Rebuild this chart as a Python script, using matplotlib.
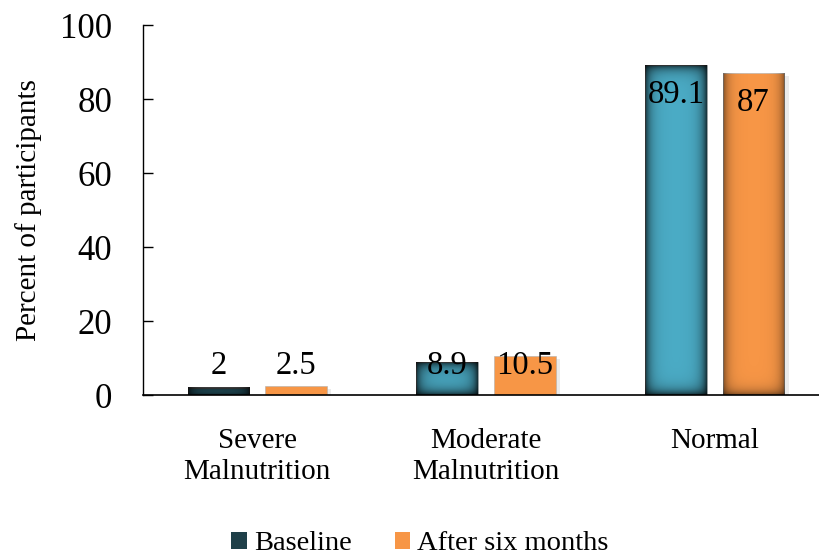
import numpy as np
import matplotlib
matplotlib.use("Agg")
import matplotlib.pyplot as plt
from matplotlib.patches import Patch
import matplotlib.patheffects as pe

plt.rcParams["font.family"] = ["Liberation Serif", "DejaVu Serif"]

categories = ["Severe\nMalnutrition", "Moderate\nMalnutrition", "Normal"]
baseline = [2, 8.9, 89.1]
after_six = [2.5, 10.5, 87]
series_names = ["Baseline", "After six months"]

BLUE = "#4bacc6"
ORANGE = "#f79646"
BAR_W = 0.27
OFFSET = 0.17


def inner_shadow(ax, rect, strength, sigma, sides="lrtb"):
    # darken a bar towards its edges, like an office-style inner shadow
    x0, y0 = rect.get_x(), rect.get_y()
    x1, y1 = x0 + rect.get_width(), y0 + rect.get_height()
    (px0, py0), (px1, py1) = ax.transData.transform([[x0, y0], [x1, y1]])
    nx = max(int(abs(px1 - px0)) * 2, 2)
    ny = max(int(abs(py1 - py0)) * 2, 2)
    xs = (np.arange(nx) + 0.5) / 2.0
    ys = (np.arange(ny) + 0.5) / 2.0
    X, Y = np.meshgrid(xs, ys)
    W, H = nx / 2.0, ny / 2.0
    keep = np.ones_like(X)
    dists = {"l": X, "r": W - X, "t": Y, "b": H - Y}
    for s in sides:
        keep *= 1 - strength * np.exp(-dists[s] / sigma)
    rgba = np.zeros((ny, nx, 4))
    rgba[..., 3] = 1 - keep
    ax.imshow(rgba, extent=[x0, x1, y0, y1], origin="upper", aspect="auto",
              interpolation="bilinear", zorder=rect.get_zorder() + 0.1)


fig = plt.figure(figsize=(8.19, 5.57), dpi=100)
ax = fig.add_axes([143 / 819, 162 / 557, 676 / 819, 370 / 557])

x = np.arange(len(categories))
bars_b = ax.bar(x - OFFSET, baseline, BAR_W, color=BLUE, edgecolor="#9a9a9a",
                linewidth=0.6, zorder=2)
bars_a = ax.bar(x + OFFSET, after_six, BAR_W, color=ORANGE, edgecolor="#b0b0b0",
                linewidth=0.4, zorder=2)
for b in bars_a:
    b.set_path_effects([pe.SimplePatchShadow(offset=(3, -2), shadow_rgbFace="#000000",
                                             alpha=0.08), pe.Normal()])

ax.set_xlim(-0.5, 2.456)
ax.set_ylim(0, 100)

for b in bars_b:
    inner_shadow(ax, b, 0.75, 5.5)
for b in bars_a:
    if b.get_height() > 50:
        inner_shadow(ax, b, 0.5, 5.0, sides="lrb")
ax.set_xlim(-0.5, 2.456)
ax.set_ylim(0, 100)

# value labels sit inside the top of tall bars, above short ones
for xs, vals in ((x - OFFSET, baseline), (x + OFFSET, after_six)):
    for xi, v in zip(xs, vals):
        ax.text(xi, max(v - 8, 8), f"{v:g}", ha="center", va="center",
                fontsize=23.5, zorder=5)

ax.set_xticks(x)
ax.set_xticklabels(categories, fontsize=21, linespacing=1.25)
ax.tick_params(axis="x", length=0, pad=24)
ax.set_yticks(range(0, 101, 20))
ax.tick_params(axis="y", direction="in", length=7, width=1, labelsize=25, pad=22)
ax.set_ylabel("Percent of participants", fontsize=21)
ax.yaxis.set_label_coords(-0.15, 0.5)

for s in ("top", "right"):
    ax.spines[s].set_visible(False)
ax.spines["left"].set_linewidth(1)
ax.spines["bottom"].set_linewidth(1.2)

handles = [Patch(facecolor="#1f4049", edgecolor="none"),
           Patch(facecolor=ORANGE, edgecolor="none")]
fig.legend(handles, series_names, loc="lower center", bbox_to_anchor=(0.513, -0.045),
           ncol=2, frameon=False, fontsize=20.5, handlelength=0.55, handleheight=0.55,
           handletextpad=0.25, columnspacing=1.5)

fig.savefig("out.png", dpi=100)
